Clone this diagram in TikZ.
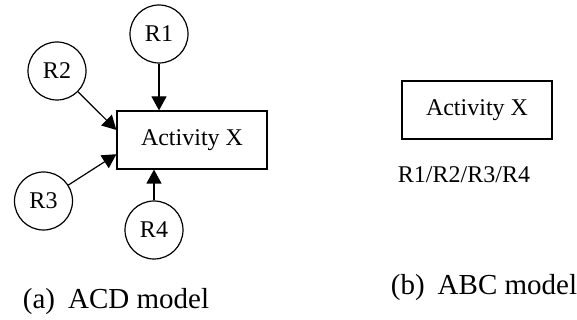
\documentclass[tikz,border=0pt]{standalone}
\usepackage{fontspec}
\setmainfont{Liberation Serif}
\usetikzlibrary{arrows.meta,calc}
\begin{document}
\begin{tikzpicture}[x=1pt,y=1pt,
  every node/.style={font=\fontsize{24}{28}\selectfont},
  res/.style={circle,draw,line width=1.2pt,minimum size=58pt,inner sep=0pt},
  actbox/.style={draw,line width=1.2pt,minimum width=150pt,minimum height=58pt,inner sep=0pt},
  flow/.style={line width=1.2pt,-{Triangle[length=14pt,width=15pt]}},
  caption/.style={font=\fontsize{29}{34}\selectfont}]
\useasboundingbox (0,0) rectangle (577,320);
% (a) ACD model
\node[actbox] (act) at (192,180) {Activity X};
\node[res] (R1) at (159,286) {R1};
\node[res] (R2) at (57,249) {R2};
\node[res] (R3) at (43.5,119) {R3};
\node[res] (R4) at (154,90) {R4};
\coordinate (a2) at ($(act.north west)!0.33!(act.south west)$);
\coordinate (a3) at ($(act.north west)!0.74!(act.south west)$);
\draw[flow] (R1.south) -- (R1.south |- act.north);
\draw[flow] (R2) -- (a2);
\draw[flow] (R3) -- (a3);
\draw[flow] (R4.north) -- (R4.north |- act.south);
\node[caption] (capa) at (116,18) {(a)\hspace{0.45em}ACD model};
% (b) ABC model
\node[actbox] (actb) at (477,210) {Activity X};
\node (res) at (464,145) {R1/R2/R3/R4};
\node[caption] (capb) at (484,32) {(b)\hspace{0.45em}ABC model};
\end{tikzpicture}
\end{document}
